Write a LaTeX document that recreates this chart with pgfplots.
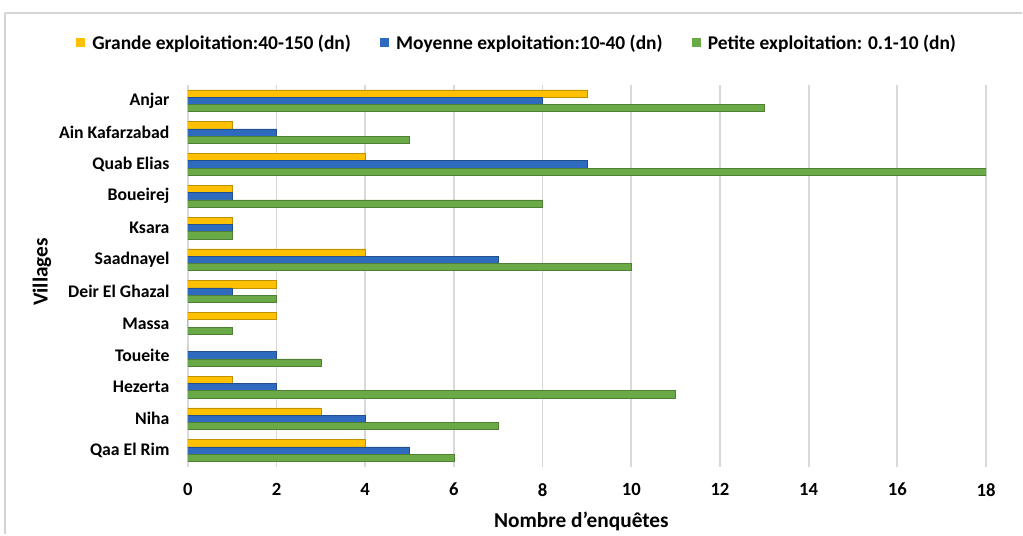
\documentclass[border=0pt]{standalone}
\usepackage{fontspec}
\setmainfont{Carlito}
\usepackage{pgfplots}
\pgfplotsset{compat=1.18}
\definecolor{cG}{RGB}{255,192,0}
\definecolor{cM}{RGB}{46,106,190}
\definecolor{cP}{RGB}{106,170,70}
\begin{document}
\begin{tikzpicture}
\path (0pt,0pt) rectangle (767.25pt,401.25pt);
\draw[black!17, line width=1.5pt] (3.75pt,391.5pt) -- (767.25pt,391.5pt);
\draw[black!17, line width=1.5pt] (4.1pt,391.5pt) -- (4.1pt,0pt);
\begin{axis}[
  at={(141pt,51pt)}, anchor=south west,
  scale only axis, width=599.25pt, height=286.5pt,
  xbar, bar width=0.23,
  xmin=0, xmax=18, ymin=-0.5, ymax=11.5,
  xtick={0,2,...,18},
  ytick={0,...,11},
  yticklabels={Qaa El Rim, Niha, Hezerta, Toueite, Massa, Deir El Ghazal, Saadnayel, Ksara, Boueirej, Quab Elias, Ain Kafarzabad, Anjar},
  xmajorgrids, major grid style={black!15, line width=1.3pt},
  axis line style={draw=none}, tick style={draw=none},
  /pgf/number format/assume math mode=true,
  xticklabel style={font=\bfseries\fontsize{14}{16}\selectfont, yshift=-9pt},
  yticklabel style={font=\bfseries\fontsize{13.3}{15}\selectfont, xshift=-6pt},
  xlabel={Nombre d'enquêtes}, ylabel={Villages},
  xlabel style={at={(axis description cs:0.493,-0.144)}, anchor=center, font=\bfseries\fontsize{16}{18}\selectfont},
  ylabel style={at={(axis description cs:-0.1827,0.51)}, anchor=center, font=\bfseries\fontsize{16}{18}\selectfont},
  legend style={at={(axis description cs:0.413,1.11)}, anchor=center, draw=none, legend columns=3,
    font=\bfseries\fontsize{14.6}{17}\selectfont,
    /tikz/every even column/.append style={column sep=20pt}},
  legend image code/.code={\fill[#1, draw=none] (0pt,-3.4pt) rectangle (6.8pt,3.4pt); \path[draw=none, fill=none] (0pt,0pt) -- (10pt,0pt);},
]
\addplot[fill=cG, draw=cG!75!black, line width=0.5pt, bar shift=0.23] coordinates {
 (9,11) (1,10) (4,9) (1,8) (1,7) (4,6) (2,5) (2,4) (0,3) (1,2) (3,1) (4,0)};
\addlegendentry{Grande exploitation:40-150 (dn)}
\addplot[fill=cM, draw=cM!75!black, line width=0.5pt, bar shift=0] coordinates {
 (8,11) (2,10) (9,9) (1,8) (1,7) (7,6) (1,5) (0,4) (2,3) (2,2) (4,1) (5,0)};
\addlegendentry{Moyenne exploitation:10-40 (dn)}
\addplot[fill=cP, draw=cP!75!black, line width=0.5pt, bar shift=-0.23] coordinates {
 (13,11) (5,10) (18,9) (8,8) (1,7) (10,6) (2,5) (1,4) (3,3) (11,2) (7,1) (6,0)};
\addlegendentry{Petite exploitation: 0.1-10 (dn)}
\end{axis}
\end{tikzpicture}
\end{document}
